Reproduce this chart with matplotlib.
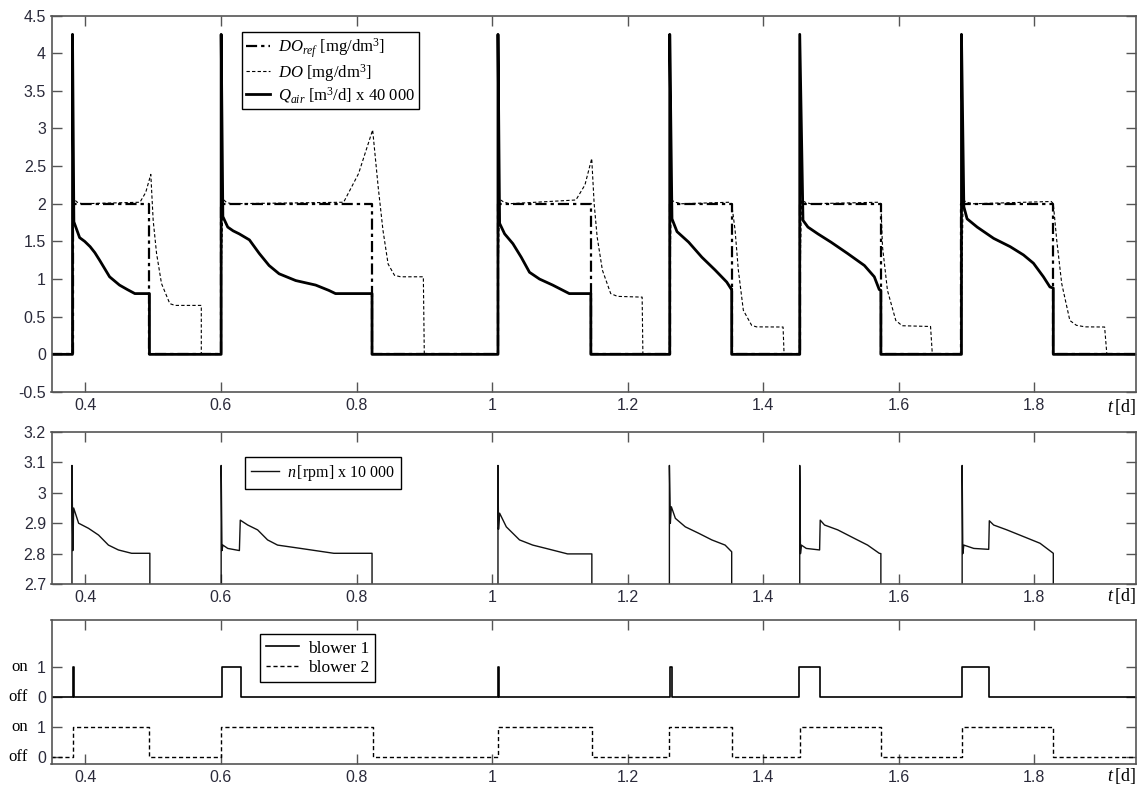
import matplotlib
matplotlib.use("Agg")
import matplotlib.pyplot as plt
from matplotlib.ticker import FuncFormatter

# --- data ---
# aeration on / off times [d]
aer_on = [0.381, 0.6003, 1.0087, 1.2621, 1.4539, 1.6925]
aer_off = [0.4945, 0.8229, 1.1457, 1.3535, 1.5736, 1.828]
doref_level = 2.0

# Qair [m3/d] / 40000
qair_t = [0.35,
          0.381, 0.381, 0.383, 0.3915, 0.399, 0.407, 0.414, 0.421, 0.4357, 0.4503, 0.462, 0.473, 0.4945, 0.4945,
          0.6003, 0.6003, 0.6028, 0.610, 0.618, 0.627, 0.642, 0.6565, 0.671, 0.6858, 0.7103, 0.7397, 0.759, 0.769, 0.8229, 0.8229,
          1.0087, 1.0087, 1.0111, 1.0185, 1.0307, 1.043, 1.0552, 1.07, 1.0894, 1.1139, 1.1457, 1.1457,
          1.2621, 1.2621, 1.2654, 1.2728, 1.29, 1.3095, 1.329, 1.3462, 1.3526, 1.3535, 1.3535,
          1.4539, 1.4539, 1.4587, 1.466, 1.4807, 1.5, 1.5244, 1.5493, 1.5639, 1.5712, 1.5736, 1.5736,
          1.6925, 1.6925, 1.696, 1.7008, 1.7157, 1.74, 1.7644, 1.784, 1.7987, 1.8134, 1.823, 1.828, 1.828,
          1.95]
qair_v = [0,
          0, 4.25, 1.76, 1.55, 1.50, 1.43, 1.35, 1.25, 1.03, 0.92, 0.86, 0.807, 0.807, 0,
          0, 4.25, 1.83, 1.69, 1.64, 1.60, 1.52, 1.34, 1.18, 1.07, 0.98, 0.92, 0.85, 0.807, 0.807, 0,
          0, 4.25, 1.74, 1.60, 1.47, 1.29, 1.09, 1.0, 0.92, 0.807, 0.807, 0,
          0, 4.25, 1.80, 1.63, 1.49, 1.29, 1.12, 0.96, 0.87, 0.87, 0,
          0, 4.25, 1.78, 1.69, 1.60, 1.49, 1.34, 1.18, 1.03, 0.86, 0.85, 0,
          0, 4.25, 1.96, 1.80, 1.69, 1.54, 1.43, 1.32, 1.21, 1.03, 0.895, 0.88, 0,
          0]

# DO [mg/dm3]
do_t = [0.35, 0.3805, 0.3815, 0.383, 0.388, 0.395, 0.4805, 0.489, 0.4965, 0.5, 0.505, 0.5123, 0.5245, 0.532, 0.571, 0.571,
        0.5995, 0.601, 0.603, 0.608, 0.615, 0.781, 0.803, 0.8238, 0.832, 0.839, 0.8466, 0.856, 0.865, 0.8986, 0.9,
        1.008, 1.0095, 1.011, 1.016, 1.025, 1.1237, 1.137, 1.147, 1.1506, 1.155, 1.1627, 1.175, 1.185, 1.2214, 1.2225,
        1.2614, 1.263, 1.2645, 1.27, 1.28, 1.35, 1.3535, 1.3585, 1.3633, 1.3707, 1.3829, 1.39, 1.4293, 1.4308,
        1.4532, 1.455, 1.4565, 1.462, 1.47, 1.57, 1.5736, 1.576, 1.5833, 1.5956, 1.605, 1.6469, 1.6495,
        1.692, 1.6935, 1.695, 1.70, 1.71, 1.825, 1.828, 1.833, 1.8404, 1.8524, 1.862, 1.875, 1.9037, 1.907, 1.95]
do_v = [0, 0, 1.3, 2.06, 2.02, 2.0, 2.02, 2.15, 2.39, 1.78, 1.34, 0.94, 0.674, 0.65, 0.65, 0,
        0, 1.3, 2.06, 2.02, 2.0, 2.02, 2.40, 2.98, 2.22, 1.65, 1.2, 1.05, 1.03, 1.03, 0,
        0, 1.3, 2.06, 2.03, 2.0, 2.05, 2.25, 2.6, 2.0, 1.56, 1.12, 0.807, 0.77, 0.76, 0,
        0, 1.3, 2.05, 2.02, 2.0, 2.02, 2.0, 1.65, 1.12, 0.585, 0.386, 0.365, 0.363, 0,
        0, 1.3, 2.05, 2.02, 2.0, 2.02, 2.0, 1.43, 0.85, 0.45, 0.38, 0.37, 0,
        0, 1.3, 2.05, 2.02, 2.0, 2.03, 2.0, 1.52, 0.94, 0.45, 0.386, 0.365, 0.363, 0, 0]

# n [rpm] / 10000
n_t = [0.35, 0.3802, 0.3802, 0.3815, 0.3827, 0.39, 0.4047, 0.4194, 0.434, 0.4487, 0.4682, 0.4951, 0.4951,
       0.6003, 0.6003, 0.6015, 0.6028, 0.6101, 0.6272, 0.6285, 0.6395, 0.6541, 0.6688, 0.6835, 0.7177, 0.7665, 0.8229, 0.8229,
       1.0087, 1.0087, 1.0095, 1.0111, 1.021, 1.0405, 1.06, 1.0797, 1.1114, 1.1472, 1.1472,
       1.2616, 1.2616, 1.263, 1.2645, 1.2704, 1.2851, 1.3047, 1.3242, 1.3438, 1.3535, 1.3535,
       1.4539, 1.4539, 1.455, 1.4563, 1.4636, 1.4832, 1.4841, 1.4905, 1.51, 1.5345, 1.554, 1.5712, 1.5736, 1.5736,
       1.6935, 1.6935, 1.6945, 1.696, 1.7107, 1.7327, 1.7336, 1.74, 1.7595, 1.784, 1.8084, 1.828, 1.828, 1.95]
n_v = [0, 0, 3.09, 2.81, 2.95, 2.90, 2.883, 2.861, 2.828, 2.812, 2.801, 2.801, 0,
       0, 3.09, 2.81, 2.828, 2.817, 2.81, 2.91, 2.894, 2.878, 2.845, 2.828, 2.817, 2.801, 2.801, 0,
       0, 3.09, 2.88, 2.933, 2.888, 2.845, 2.828, 2.817, 2.799, 2.799, 0,
       0, 3.09, 2.90, 2.954, 2.916, 2.888, 2.867, 2.845, 2.828, 2.806, 0,
       0, 3.09, 2.80, 2.828, 2.817, 2.812, 2.91, 2.894, 2.878, 2.85, 2.828, 2.801, 2.80, 0,
       0, 3.09, 2.80, 2.828, 2.817, 2.814, 2.908, 2.894, 2.878, 2.856, 2.834, 2.801, 0, 0]

# blower states
blower1_on = [0.3815, 0.6013, 1.0085, 1.2625, 1.4525, 1.6935]
blower1_off = [0.3830, 0.6296, 1.0100, 1.2655, 1.4841, 1.7336]
blower2_on = [0.3817, 0.6, 1.0087, 1.2616, 1.4539, 1.6935]
blower2_off = [0.4945, 0.8243, 1.1472, 1.3535, 1.5736, 1.828]

t_min, t_max = 0.35, 1.95
x_ticks = [0.4, 0.6, 0.8, 1.0, 1.2, 1.4, 1.6, 1.8]


def step_line(on, off, level):
    ts, vs = [t_min], [0]
    for a, b in zip(on, off):
        ts += [a, a, b, b]
        vs += [0, level, level, 0]
    ts.append(t_max)
    vs.append(0)
    return ts, vs


plt.rcParams['mathtext.fontset'] = 'custom'
plt.rcParams['mathtext.rm'] = 'Liberation Serif'
plt.rcParams['mathtext.it'] = 'Liberation Serif:italic'

serif = 'Liberation Serif'
sans = 'Liberation Sans'
spine_col = '#555555'
tick_col = '#2a2a3a'

fig = plt.figure(figsize=(11.42, 7.87), dpi=100)
W, H = 1142, 787


def make_axes(left, top, right, bottom):
    ax = fig.add_axes([left / W, 1 - bottom / H, (right - left) / W, (bottom - top) / H])
    ax.set_xlim(t_min, t_max)
    ax.set_xticks(x_ticks)
    ax.xaxis.set_major_formatter(FuncFormatter(lambda v, p: '%g' % v))
    ax.tick_params(direction='in', top=True, right=True, length=7, width=1, color=spine_col,
                   labelsize=11.5, labelcolor=tick_col, pad=4)
    for s in ax.spines.values():
        s.set_color(spine_col)
        s.set_linewidth(1.2)
    ax.text(1.0, -0.012, r'$t\,$[d]', transform=ax.transAxes, ha='right', va='top',
            fontsize=13, family=serif)
    return ax


def sans_labels(ax):
    for lab in ax.get_xticklabels() + ax.get_yticklabels():
        lab.set_family(sans)


# --- top panel ---
ax1 = make_axes(51.5, 15.5, 1136, 392)
ax1.set_ylim(-0.5, 4.5)
ax1.set_yticks([-0.5, 0, 0.5, 1, 1.5, 2, 2.5, 3, 3.5, 4, 4.5])
ax1.yaxis.set_major_formatter(FuncFormatter(lambda v, p: '%g' % v))
sans_labels(ax1)
rt, rv = step_line(aer_on, aer_off, doref_level)
ax1.plot(rt, rv, color='black', lw=1.6, dashes=(5, 1.8, 1.5, 1.8),
         label=r'$DO_{ref}$ [mg/dm$^3$]')
ax1.plot(do_t, do_v, color='black', lw=0.8, dashes=(3, 2),
         label=r'$DO$ [mg/dm$^3$]')
ax1.plot(qair_t, qair_v, color='black', lw=2.0,
         label=r'$Q_{air}$ [m$^3$/d] x 40 000')
leg1 = ax1.legend(loc='upper left', bbox_to_anchor=(0.1754, 0.9554), borderaxespad=0,
                  prop={'family': serif, 'size': 12}, fancybox=False, framealpha=1,
                  edgecolor='black', handlelength=1.45, handletextpad=0.45,
                  labelspacing=0.1, borderpad=0.25)
leg1.get_frame().set_linewidth(1.0)

# --- middle panel ---
ax2 = make_axes(51.5, 432, 1136, 584)
ax2.set_ylim(2.7, 3.2)
ax2.set_yticks([2.7, 2.8, 2.9, 3.0, 3.1, 3.2])
ax2.yaxis.set_major_formatter(FuncFormatter(lambda v, p: '%g' % round(v, 2)))
sans_labels(ax2)
ax2.plot(n_t, n_v, color='#111111', lw=1.0, label=r'$n\,$[rpm] x 10 000')
leg2 = ax2.legend(loc='upper left', bbox_to_anchor=(0.1784, 0.8375), borderaxespad=0,
                  prop={'family': serif, 'size': 11.5}, fancybox=False, framealpha=1,
                  edgecolor='black', handlelength=1.7, handletextpad=0.5, borderpad=0.4)
leg2.get_frame().set_linewidth(1.0)

# --- bottom panel ---
ax3 = make_axes(51.5, 620, 1136, 764)
ax3.set_ylim(-0.23, 4.57)
ax3.set_yticks([0, 1, 2, 3])
ax3.set_yticklabels(['0', '1', '0', '1'])
sans_labels(ax3)
b1t, b1v = step_line(blower1_on, blower1_off, 1)
b2t, b2v = step_line(blower2_on, blower2_off, 1)
ax3.plot(b1t, [v + 2 for v in b1v], color='black', lw=1.2, label='blower 1')
ax3.plot(b2t, b2v, color='black', lw=1.0, dashes=(3, 2), label='blower 2')
for yv, word in zip([0, 1, 2, 3], ['off', 'on', 'off', 'on']):
    ax3.text(-0.0215, yv, word, transform=ax3.get_yaxis_transform(), ha='right', va='center',
             fontsize=12, family=serif)
leg3 = ax3.legend(loc='upper left', bbox_to_anchor=(0.1923, 0.9007), borderaxespad=0,
                  prop={'family': serif, 'size': 12.5}, fancybox=False, framealpha=1,
                  edgecolor='black', handlelength=1.9, handletextpad=0.5,
                  labelspacing=0.2, borderpad=0.35)
leg3.get_frame().set_linewidth(1.0)

fig.savefig('out.png', dpi=100)
